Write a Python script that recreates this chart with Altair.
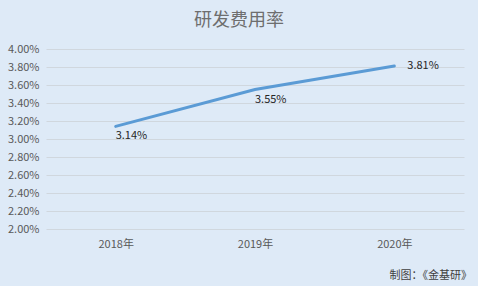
import altair as alt
import pandas as pd

years = ["2018年", "2019年", "2020年"]
rates = [0.0314, 0.0355, 0.0381]
labels = ["3.14%", "3.55%", "3.81%"]
label_side = ["below", "below", "right"]
y_ticks = [0.020, 0.022, 0.024, 0.026, 0.028, 0.030, 0.032, 0.034, 0.036, 0.038, 0.040]

df = pd.DataFrame({"year": years, "rate": rates, "label": labels, "side": label_side})

FONT = "Noto Sans CJK SC"

base = alt.Chart(df).encode(
    x=alt.X("year:N", sort=years, title=None,
            scale=alt.Scale(paddingInner=0, paddingOuter=0.5),
            axis=alt.Axis(labelAngle=0, domain=False, ticks=False, labelPadding=9,
                          labelFontSize=11, labelColor="#595959", labelFont=FONT, grid=False)),
    y=alt.Y("rate:Q", title=None,
            scale=alt.Scale(domain=[0.02, 0.04], nice=False, zero=False),
            axis=alt.Axis(format=".2%", values=y_ticks, labelOverlap=False,
                          domain=False, ticks=False, labelPadding=7,
                          labelFontSize=11, labelColor="#595959", labelFont=FONT,
                          gridColor="#D0D7DE", gridWidth=1)),
)

line = base.mark_line(color="#5B9BD5", strokeWidth=3, strokeCap="round")

below = base.transform_filter(alt.datum.side == "below").mark_text(
    align="left", baseline="middle", dx=0, dy=10, fontSize=11, color="#262626", font=FONT
).encode(text="label:N")

right = base.transform_filter(alt.datum.side == "right").mark_text(
    align="left", baseline="middle", dx=13, dy=0, fontSize=11, color="#262626", font=FONT
).encode(text="label:N")

source = alt.Chart(pd.DataFrame({"t": ["制图：《金基研》"]})).mark_text(
    align="right", baseline="middle", fontSize=11, color="#404040", font=FONT
).encode(text="t:N", x=alt.value(426), y=alt.value(227))

chart = alt.layer(line, below, right, source).properties(
    width=418, height=180,
    autosize=alt.AutoSizeParams(type="none"),
    padding={"left": 46, "top": 49, "right": 14, "bottom": 57},
    background="#DEEAF7",
    title=alt.TitleParams("研发费用率", fontSize=18, fontWeight="normal", color="#6E6E6E",
                          font=FONT, anchor="middle", dx=-16, offset=13),
).configure_view(stroke=None)

chart.save("out.html", embed_options={"renderer": "svg", "actions": False})
